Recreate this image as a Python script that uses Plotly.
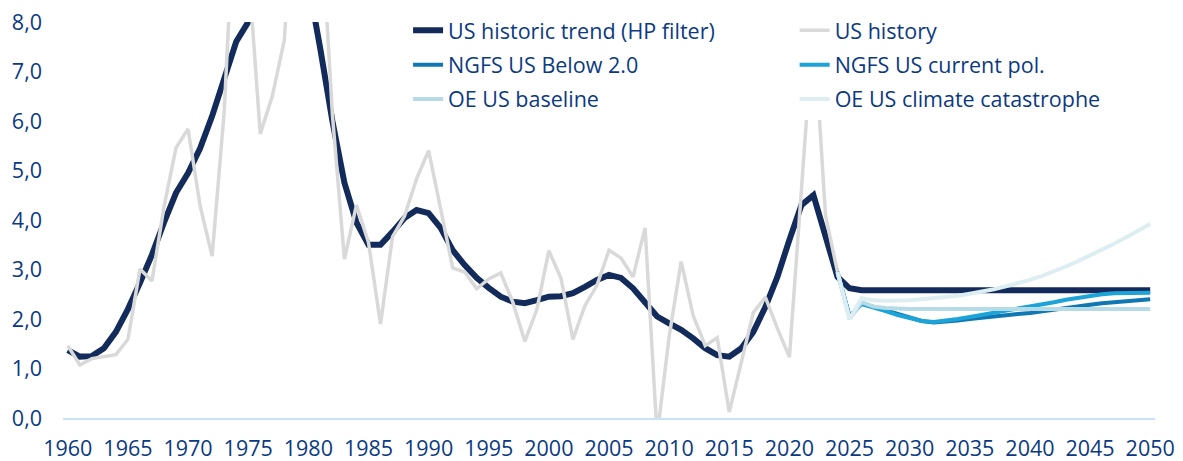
'''
    US inflation: history, HP-filter trend and scenario projections to 2050.
'''

import plotly.graph_objects as go

# Years
years_trend = list(range(1960, 2051))
years_hist = list(range(1960, 2025))
years_proj = list(range(2024, 2051))

# US historic trend (HP filter), 1960-2050
trend = [1.37, 1.24, 1.25, 1.41, 1.74, 2.2, 2.73, 3.3, 3.95, 4.55,
         4.95, 5.45, 6.1, 6.85, 7.6, 8.0, 8.6, 9.2, 9.6, 9.6,
         8.8, 7.45, 6.0, 4.75, 3.95, 3.5, 3.5, 3.76, 4.04, 4.2,
         4.14, 3.84, 3.39, 3.09, 2.83, 2.63, 2.45, 2.35, 2.32, 2.38,
         2.45, 2.46, 2.52, 2.65, 2.79, 2.89, 2.83, 2.62, 2.32, 2.05,
         1.91, 1.78, 1.61, 1.41, 1.27, 1.24, 1.41, 1.74, 2.24, 2.85,
         3.6, 4.3, 4.5, 3.7, 2.85, 2.62] + [2.58] * 25

# US history, 1960-2024
history = [1.46, 1.07, 1.2, 1.24, 1.28, 1.59, 3.01, 2.77, 4.27, 5.46,
           5.84, 4.29, 3.27, 6.18, 11.05, 9.14, 5.74, 6.5, 7.63, 11.25,
           13.55, 10.33, 6.13, 3.21, 4.3, 3.55, 1.9, 3.66, 4.08, 4.83,
           5.4, 4.23, 3.03, 2.95, 2.61, 2.81, 2.93, 2.34, 1.55, 2.19,
           3.38, 2.83, 1.59, 2.27, 2.68, 3.39, 3.23, 2.85, 3.84, -0.36,
           1.64, 3.16, 2.07, 1.46, 1.62, 0.12, 1.1, 2.13, 2.44, 1.81,
           1.23, 4.7, 8.0, 4.1, 2.95]

# Scenarios, 2024-2050
ngfs_below2 = [2.95, 2.05, 2.32, 2.25, 2.17, 2.09, 2.02, 1.96, 1.93, 1.94,
               1.97, 2.0, 2.03, 2.06, 2.08, 2.1, 2.12, 2.15, 2.18, 2.22,
               2.26, 2.29, 2.32, 2.34, 2.36, 2.38, 2.4]
ngfs_current = [2.95, 2.05, 2.3, 2.24, 2.16, 2.08, 2.01, 1.96, 1.94, 1.96,
                2.0, 2.04, 2.08, 2.12, 2.16, 2.2, 2.24, 2.29, 2.34, 2.39,
                2.43, 2.47, 2.5, 2.52, 2.53, 2.53, 2.53]
oe_baseline = [2.95, 2.0, 2.34, 2.25, 2.22] + [2.2] * 22
oe_catastrophe = [2.95, 2.0, 2.42, 2.38, 2.37, 2.37, 2.38, 2.4, 2.42, 2.44,
                  2.47, 2.51, 2.55, 2.6, 2.66, 2.72, 2.79, 2.87, 2.96, 3.06,
                  3.17, 3.28, 3.4, 3.52, 3.65, 3.78, 3.92]

x_ticks = list(range(1960, 2051, 5))

TEXT_BLUE = "#0b3a82"
FONT = "Open Sans"

series = [
    # name, x, y, colour, width, legend, group
    ("US historic trend (HP filter)", years_trend, trend, "#132b5b", 6, "legend", "a"),
    ("US history", years_hist, history, "#d9d9d9", 3.5, "legend2", "b"),
    ("NGFS US Below 2.0", years_proj, ngfs_below2, "#0f78b2", 4, "legend", "c"),
    ("NGFS US current pol.", years_proj, ngfs_current, "#1ca3d8", 4, "legend2", "d"),
    ("OE US baseline", years_proj, oe_baseline, "#b4dbe6", 4, "legend", "e"),
    ("OE US climate catastrophe", years_proj, oe_catastrophe, "#ddeef2", 4, "legend2", "f"),
]

fig = go.Figure()
for name, xs, ys, color, width, leg, grp in series:
    fig.add_trace(go.Scatter(
        x=xs, y=ys, name=name, mode="lines",
        line=dict(color=color, width=width),
        legend=leg, legendgroup=grp,
    ))

legend_common = dict(
    bgcolor="white",
    borderwidth=0,
    font=dict(family=FONT, size=21.5, color=TEXT_BLUE),
    tracegroupgap=3.5,
    xanchor="left",
    yanchor="top",
    y=1.031,
)

# the page body has an 8px margin, so the figure is 8px smaller than the window
fig.update_layout(
    width=1175,
    height=453,
    margin=dict(l=55, r=28, t=14, b=43, autoexpand=False),
    paper_bgcolor="white",
    plot_bgcolor="white",
    separators=", ",
    font=dict(family=FONT, size=21.5, color=TEXT_BLUE),
    legend=dict(x=0.316, **legend_common),
    legend2=dict(x=0.670, **legend_common),
    xaxis=dict(
        range=[1959.6, 2050.4],
        tickvals=x_ticks,
        showgrid=False,
        zeroline=False,
        showline=True,
        linecolor="#c9e1fb",
        linewidth=2,
        ticks="",
        ticklabelstandoff=10,
        ticklabeloverflow="allow",
    ),
    yaxis=dict(
        range=[0, 8],
        dtick=1,
        tickformat=".1f",
        showgrid=False,
        zeroline=False,
        showline=False,
        ticks="",
        ticklabelstandoff=20,
        ticklabeloverflow="allow",
    ),
)

fig.write_html("out.html")
